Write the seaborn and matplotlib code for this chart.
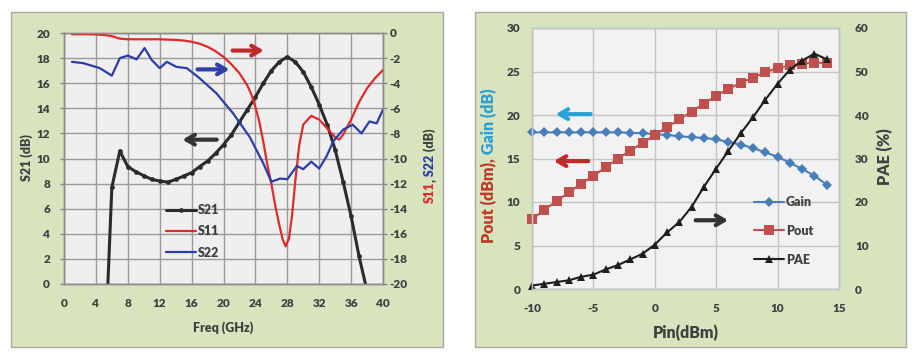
import matplotlib
matplotlib.use("Agg")
import numpy as np
import pandas as pd
import matplotlib.pyplot as plt
import seaborn as sns
from matplotlib.patches import Rectangle

# ---------------- data: left panel ----------------
s21_freq = [5.5, 6, 7, 8, 9, 10, 11, 12, 13, 14, 15, 16, 17, 18, 19, 20, 21, 22, 23, 24,
            25, 26, 27, 28, 29, 30, 31, 32, 33, 34, 35, 36, 37, 37.8]
s21_db = [0.0, 7.7, 10.6, 9.35, 8.95, 8.63, 8.34, 8.2, 8.12, 8.33, 8.6, 8.87, 9.35, 9.8, 10.4,
          11.1, 11.9, 12.9, 13.9, 14.9, 16.0, 17.0, 17.7, 18.1, 17.7, 16.9, 15.7, 14.3, 12.7,
          10.7, 8.15, 5.4, 2.2, 0.0]

s11_freq = [1, 2, 3, 4, 5, 6, 7, 8, 10, 12, 14, 15, 16, 17, 18, 19, 20, 21, 22, 23, 23.5, 24,
            24.5, 25, 25.5, 26, 26.5, 27, 27.4, 27.8, 28.2, 28.6, 29, 29.5, 30, 31, 32, 33, 34,
            34.5, 35, 36, 37, 38, 39, 40]
s11_db = [-0.1, -0.1, -0.1, -0.12, -0.15, -0.25, -0.45, -0.5, -0.5, -0.5, -0.55, -0.6, -0.7,
          -0.85, -1.1, -1.45, -1.9, -2.5, -3.2, -4.2, -4.9, -5.9, -7.1, -8.7, -10.5, -12.0,
          -13.8, -15.3, -16.4, -17.0, -16.4, -14.5, -11.8, -8.9, -7.3, -6.6, -6.9, -7.6, -8.3,
          -8.5, -8.1, -6.9, -5.5, -4.4, -3.6, -2.95]

s22_freq = [1, 2.4, 4.5, 6, 7, 8, 9.1, 10.1, 11, 12, 12.9, 14.1, 15.4, 17, 19.1, 21.2, 23.3, 25,
            26, 27.1, 28, 29.2, 30, 31, 32, 32.9, 33.8, 35, 36.2, 37.3, 38.3, 39.2, 40]
s22_db = [-2.3, -2.4, -2.8, -3.4, -2.0, -1.8, -2.1, -1.2, -2.15, -2.8, -2.3, -2.7, -2.8, -3.6,
          -4.8, -6.4, -8.3, -10.4, -11.85, -11.6, -11.65, -10.6, -10.85, -10.25, -10.8, -9.85,
          -8.6, -7.7, -7.3, -8.0, -7.05, -7.2, -6.1]

left_xticks = list(range(0, 41, 4))
left_yticks = list(range(0, 21, 2))
left_y2ticks = list(range(-20, 1, 2))

# ---------------- data: right panel ----------------
pin_dbm = list(range(-10, 15))
gain_db = [18.0, 18.0, 18.0, 18.0, 18.0, 18.0, 18.0, 18.0, 17.95, 17.9, 17.8, 17.7, 17.55,
           17.45, 17.35, 17.2, 16.9, 16.6, 16.2, 15.7, 15.2, 14.5, 13.8, 13.0, 12.0]
pout_dbm = [8.0, 9.1, 10.1, 11.1, 12.1, 13.0, 14.0, 15.0, 15.9, 16.8, 17.7, 18.6, 19.5, 20.4,
            21.3, 22.2, 23.0, 23.7, 24.3, 24.9, 25.4, 25.7, 25.9, 26.0, 26.0]
pae_pct = [0.8, 1.2, 1.6, 2.0, 2.8, 3.3, 4.5, 5.5, 6.8, 8.1, 10.2, 13.0, 15.4, 18.9, 23.5, 27.7,
           31.8, 35.8, 39.5, 43.5, 47.2, 50.4, 52.5, 54.1, 52.8]

right_xticks = list(range(-10, 16, 5))
right_yticks = list(range(0, 31, 5))
right_y2ticks = list(range(0, 61, 10))

# ---------------- style ----------------
sns.set_style("white")
plt.rcParams["font.family"] = ["Lato", "DejaVu Sans"]
plt.rcParams["font.weight"] = "heavy"
plt.rcParams["axes.unicode_minus"] = False

W, H = 918, 360
fig = plt.figure(figsize=(W / 100, H / 100), dpi=100)
fig.patch.set_facecolor("white")

GREEN = "#d7e4bd"
TXT = "#404040"


def fx(px):
    return px / W


def fy(py):
    return 1 - py / H


for (x0, y0, x1, y1) in [(11, 12, 443, 347), (475, 12, 906, 347)]:
    fig.patches.append(Rectangle((fx(x0), fy(y1)), fx(x1 - x0), (y1 - y0) / H,
                                 transform=fig.transFigure, facecolor=GREEN,
                                 edgecolor="#a8a8a8", lw=1.0, zorder=-10))

# ---------------- left panel ----------------
axL = fig.add_axes([fx(64), fy(284), fx(383 - 64), (284 - 33) / H])
axL.set_facecolor("#efefef")
axL2 = axL.twinx()

df21 = pd.DataFrame({"f": s21_freq, "v": s21_db})
df11 = pd.DataFrame({"f": s11_freq, "v": s11_db})
df22 = pd.DataFrame({"f": s22_freq, "v": s22_db})

sns.lineplot(data=df21, x="f", y="v", ax=axL, color="#2b2b2b", lw=2.2, marker="o",
             markersize=3.4, markeredgewidth=0, markevery=slice(1, -1), label="S21",
             estimator=None, sort=False)
sns.lineplot(data=df11, x="f", y="v", ax=axL2, color="#e02a2a", lw=1.6, label="S11",
             estimator=None, sort=False)
sns.lineplot(data=df22, x="f", y="v", ax=axL2, color="#2b3da8", lw=1.6, label="S22",
             estimator=None, sort=False)

for a in (axL, axL2):
    if a.get_legend():
        a.get_legend().remove()

axL.set_xlim(0, 40)
axL.set_ylim(0, 20)
axL2.set_ylim(-20, 0)
axL.set_xticks(left_xticks)
axL.set_yticks(left_yticks)
axL2.set_yticks(left_y2ticks)
axL.grid(True, color="#9a9a9a", lw=1.0)
axL.set_axisbelow(True)
axL.set_xlabel("")
axL.set_ylabel("")
axL2.set_ylabel("")
axL.tick_params(axis="both", length=3, width=1, color="#888888", pad=7,
                labelsize=8.5, labelcolor=TXT)
axL2.tick_params(axis="y", length=3, width=1, color="#888888", pad=1.5,
                 labelsize=8.5, labelcolor=TXT)
for a in (axL, axL2):
    for s in a.spines.values():
        s.set_color("#8c8c8c")
        s.set_linewidth(1.0)

hL = axL.get_legend_handles_labels()
hL2 = axL2.get_legend_handles_labels()
legL = axL2.legend(hL[0] + hL2[0], hL[1] + hL2[1], loc="upper left",
                   bbox_to_anchor=(fx(166), fy(204)), bbox_transform=fig.transFigure,
                   frameon=False, borderpad=0, borderaxespad=0, handlelength=2.4,
                   handletextpad=0.15, labelspacing=0.75, fontsize=9, labelcolor=TXT)

arrow_kw = dict(arrowstyle="->,head_length=0.6,head_width=0.35", lw=3.0)
axL.annotate("", xy=(25.4, 18.6), xytext=(20.8, 18.6),
             arrowprops=dict(color="#c0282a", **arrow_kw))
axL.annotate("", xy=(21.1, 17.1), xytext=(16.4, 17.1),
             arrowprops=dict(color="#2e40a8", **arrow_kw))
axL.annotate("", xy=(14.5, 11.5), xytext=(19.5, 11.5),
             arrowprops=dict(color="#333333", **arrow_kw))

# ---------------- right panel ----------------
axR = fig.add_axes([fx(532), fy(289), fx(839 - 532), (289 - 28) / H])
axR.set_facecolor("#f2f2f2")
axR2 = axR.twinx()

dfP = pd.DataFrame({"pin": pin_dbm, "gain": gain_db, "pout": pout_dbm, "pae": pae_pct})
sns.lineplot(data=dfP, x="pin", y="gain", ax=axR, color="#4a7ebb", lw=1.5, marker="D",
             markersize=5, markeredgewidth=0, label="Gain", estimator=None, sort=False,
             clip_on=False)
sns.lineplot(data=dfP, x="pin", y="pout", ax=axR, color="#c0504d", lw=1.5, marker="s",
             markersize=6.5, markeredgewidth=0, label="Pout", estimator=None, sort=False,
             clip_on=False)
sns.lineplot(data=dfP, x="pin", y="pae", ax=axR2, color="#1e1e1e", lw=1.5, marker="^",
             markersize=6, markeredgewidth=0, label="PAE", estimator=None, sort=False,
             clip_on=False)
for a in (axR, axR2):
    if a.get_legend():
        a.get_legend().remove()

axR.set_xlim(-10, 15)
axR.set_ylim(0, 30)
axR2.set_ylim(0, 60)
axR.set_xticks(right_xticks)
axR.set_yticks(right_yticks)
axR2.set_yticks(right_y2ticks)
axR.grid(True, color="#c4c4c4", lw=1.0)
axR.set_axisbelow(True)
axR.set_xlabel("")
axR.set_ylabel("")
axR2.set_ylabel("")
axR.tick_params(axis="x", length=0, pad=10, labelsize=8.5, labelcolor=TXT)
axR.tick_params(axis="y", length=0, pad=8.5, labelsize=8.5, labelcolor=TXT)
axR2.tick_params(axis="y", length=0, pad=11.5, labelsize=8.5, labelcolor=TXT)
for a in (axR, axR2):
    for s in a.spines.values():
        s.set_color("#c4c4c4")
        s.set_linewidth(1.0)

hR = axR.get_legend_handles_labels()
hR2 = axR2.get_legend_handles_labels()
legR = axR2.legend(hR[0] + hR2[0], hR[1] + hR2[1], loc="upper left",
                   bbox_to_anchor=(fx(754), fy(196)), bbox_transform=fig.transFigure,
                   frameon=False, borderpad=0, borderaxespad=0, handlelength=2.4,
                   handletextpad=0.15, labelspacing=1.35, fontsize=9, labelcolor=TXT,
                   numpoints=1)

axR.annotate("", xy=(-8.3, 20.1), xytext=(-5.0, 20.1),
             arrowprops=dict(color="#29a3d6", **arrow_kw))
axR.annotate("", xy=(-8.45, 14.7), xytext=(-5.2, 14.7),
             arrowprops=dict(color="#c0282a", **arrow_kw))
axR.annotate("", xy=(6.2, 7.9), xytext=(3.1, 7.9),
             arrowprops=dict(color="#333333", **arrow_kw))

# ---------------- axis titles ----------------
fig.text(fx(223), fy(328), "Freq (GHz)", ha="center", va="center", fontsize=9,
         color=TXT)
fig.text(fx(686), fy(333), "Pin(dBm)", ha="center", va="center", fontsize=11.5,
         color=TXT)
fig.text(fx(27), fy(158), "S21 (dB)", rotation=90, ha="center", va="center", fontsize=9,
         color=TXT)
fig.text(fx(885), fy(157), "PAE (%)", rotation=90, ha="center", va="center", fontsize=11.5,
         color=TXT)

renderer = fig.canvas.get_renderer()


def rot_label(x_px, y_bottom_px, pieces, size):
    y = fy(y_bottom_px)
    for txt, col in pieces:
        t = fig.text(fx(x_px), y, txt, rotation=90, rotation_mode="anchor", ha="left",
                     va="baseline", color=col, fontsize=size)
        bb = t.get_window_extent(renderer)
        y += bb.height / H


rot_label(434, 203, [("S11", "#e02a2a"), (",", TXT), (" S22", "#2b3da8"), (" (dB)", TXT)], 9)
rot_label(494, 243, [("Pout (dBm),", "#c0392b"), (" Gain (dB)", "#2e9fd8")], 11.5)

fig.savefig("out.png", dpi=100, facecolor="white")
